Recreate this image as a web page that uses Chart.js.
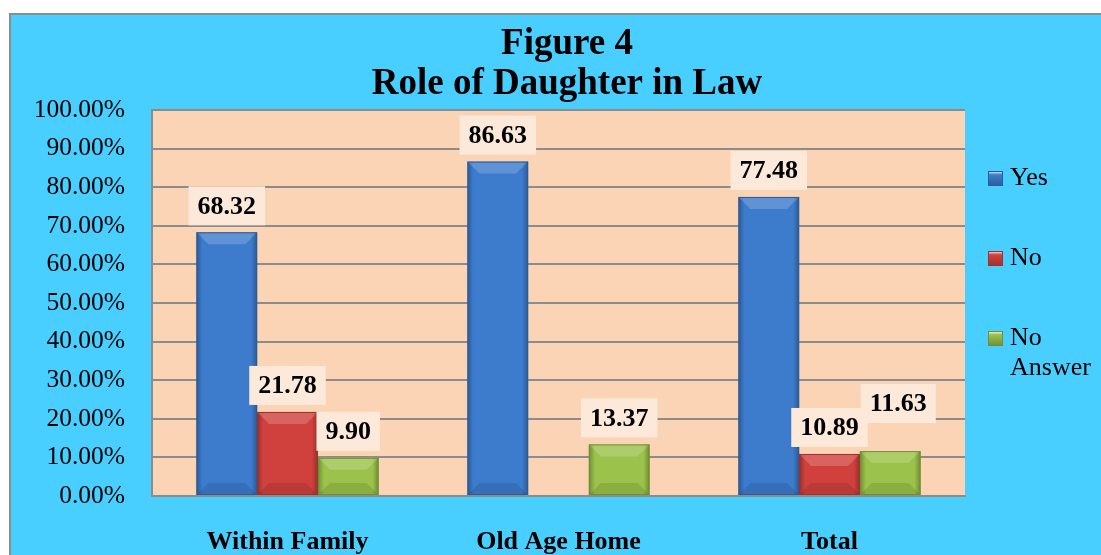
<!DOCTYPE html>
<html>
<head>
<meta charset="utf-8">
<title>Role of Daughter in Law</title>
<script src="https://cdn.jsdelivr.net/npm/chart.js@4.4.1/dist/chart.umd.min.js"></script>
<style>
    html, body { margin: 0; padding: 0; background: #ffffff; overflow: hidden; }
    .frame {
        position: absolute; left: 9px; top: 13px; width: 1200px; height: 600px;
        background: #48ceff; border-left: 2px solid #8c8c8c; border-top: 2px solid #8c8c8c;
    }
    .wrap { position: absolute; left: 0; top: 0; width: 1101px; height: 555px; }
</style>
</head>
<body>
<div class="frame"></div>
<div class="wrap"><canvas id="daughterChart"></canvas></div>
<script>
// ======================
// Data
// ======================
const categories = ['Within Family', 'Old Age Home', 'Total'];
const yesValues = [68.32, 86.63, 77.48];
const noValues = [21.78, null, 10.89];
const noAnswerValues = [9.90, 13.37, 11.63];
const seriesNames = ['Yes', 'No', 'No Answer'];
const titleLines = ['Figure 4', 'Role of Daughter in Law'];
const yMax = 100;
const yStep = 10;

const serif = '"Liberation Serif", "Times New Roman", serif';
const barColors = ['#3d7ccd', '#d0413d', '#9bc24a'];
const edgeColors = ['#2b5b9b', '#9e302d', '#6f8f35'];

// ======================
// Plugins
// ======================
const plotBackground = {
    id: 'plotBackground',
    beforeDraw(chart) {
        const a = chart.chartArea;
        const ctx = chart.ctx;
        ctx.save();
        ctx.fillStyle = '#fad4b4';
        ctx.fillRect(a.left, a.top, a.right - a.left, a.bottom - a.top);
        ctx.restore();
    }
};

// bevel look on top of the flat bars
const barBevel = {
    id: 'barBevel',
    afterDatasetsDraw(chart) {
        const ctx = chart.ctx;
        ctx.save();
        chart.data.datasets.forEach((ds, di) => {
            chart.getDatasetMeta(di).data.forEach((bar, i) => {
                if (ds.data[i] == null) return;
                const w = bar.width;
                const l = bar.x - w / 2;
                const r = bar.x + w / 2;
                const t = bar.y;
                const b = bar.base;
                const g = ctx.createLinearGradient(l, 0, r, 0);
                g.addColorStop(0, 'rgba(0,0,0,0.28)');
                g.addColorStop(0.1, 'rgba(0,0,0,0)');
                g.addColorStop(0.9, 'rgba(0,0,0,0)');
                g.addColorStop(1, 'rgba(0,0,0,0.28)');
                ctx.fillStyle = g;
                ctx.fillRect(l, t, w, b - t);
                const bev = Math.min(12, (b - t) / 3);
                ctx.fillStyle = 'rgba(255,255,255,0.18)';
                ctx.beginPath();
                ctx.moveTo(l, t); ctx.lineTo(r, t);
                ctx.lineTo(r - bev, t + bev); ctx.lineTo(l + bev, t + bev);
                ctx.closePath(); ctx.fill();
                ctx.fillStyle = 'rgba(0,0,0,0.1)';
                ctx.beginPath();
                ctx.moveTo(l, b); ctx.lineTo(r, b);
                ctx.lineTo(r - bev, b - bev); ctx.lineTo(l + bev, b - bev);
                ctx.closePath(); ctx.fill();
                ctx.strokeStyle = edgeColors[di];
                ctx.lineWidth = 1;
                ctx.strokeRect(l + 0.5, t + 0.5, w - 1, b - t - 1);
            });
        });
        ctx.restore();
    }
};

const valueLabels = {
    id: 'valueLabels',
    afterDatasetsDraw(chart) {
        const ctx = chart.ctx;
        const boxes = [];
        ctx.save();
        ctx.font = 'bold 26px ' + serif;
        ctx.textAlign = 'center';
        ctx.textBaseline = 'middle';
        chart.data.datasets.forEach((ds, di) => {
            chart.getDatasetMeta(di).data.forEach((bar, i) => {
                const v = ds.data[i];
                if (v == null) return;
                const txt = v.toFixed(2);
                const w = ctx.measureText(txt).width + 18;
                const h = 39;
                let box = { x: bar.x - w / 2, y: bar.y - 7 - h, w: w, h: h };
                const hit = boxes.some(o => box.x < o.x + o.w && o.x < box.x + box.w &&
                                            box.y < o.y + o.h && o.y < box.y + box.h);
                if (hit) { box.x += 8; box.y -= 21; }
                boxes.push(box);
                ctx.fillStyle = '#fde9d9';
                ctx.fillRect(box.x, box.y, box.w, box.h);
                ctx.fillStyle = '#000000';
                ctx.fillText(txt, box.x + box.w / 2, box.y + box.h / 2 + 1);
            });
        });
        ctx.restore();
    }
};

const chartTitle = {
    id: 'chartTitle',
    afterDraw(chart) {
        const ctx = chart.ctx;
        ctx.save();
        ctx.font = 'bold 37px ' + serif;
        ctx.fillStyle = '#000000';
        ctx.textAlign = 'center';
        ctx.textBaseline = 'middle';
        titleLines.forEach((line, i) => ctx.fillText(line, 567, 44 + i * 40));
        ctx.restore();
    }
};

const sideLegend = {
    id: 'sideLegend',
    afterDraw(chart) {
        const ctx = chart.ctx;
        const x = chart.chartArea.right + 23;
        ctx.save();
        ctx.font = '26px ' + serif;
        ctx.textBaseline = 'middle';
        seriesNames.forEach((name, i) => {
            const y = 178 + i * 80;
            const g = ctx.createLinearGradient(x, y - 7, x, y + 8);
            g.addColorStop(0, '#ffffff');
            g.addColorStop(0.25, barColors[i]);
            g.addColorStop(1, edgeColors[i]);
            ctx.fillStyle = g;
            ctx.fillRect(x, y - 7, 15, 15);
            ctx.strokeStyle = edgeColors[i];
            ctx.strokeRect(x + 0.5, y - 6.5, 14, 14);
            ctx.fillStyle = '#000000';
            name.split(' ').forEach((part, k) => ctx.fillText(part, x + 22, y + k * 30));
        });
        ctx.restore();
    }
};

// ======================
// Chart
// ======================
const canvas = document.getElementById('daughterChart');

if (canvas) {
    new Chart(canvas, {
        type: 'bar',
        data: {
            labels: categories,
            datasets: [
                { label: seriesNames[0], data: yesValues, backgroundColor: barColors[0] },
                { label: seriesNames[1], data: noValues, backgroundColor: barColors[1] },
                { label: seriesNames[2], data: noAnswerValues, backgroundColor: barColors[2] }
            ]
        },
        options: {
            responsive: true,
            maintainAspectRatio: false,
            animation: false,
            categoryPercentage: 0.672,
            barPercentage: 1.0,
            layout: {
                padding: { left: 0, right: 136, top: 110, bottom: 0 }
            },
            scales: {
                x: {
                    grid: { display: false },
                    border: { color: '#8c8c8c', width: 2 },
                    ticks: {
                        color: '#000000',
                        padding: 23,
                        font: { size: 26, weight: 'bold', family: serif }
                    },
                    afterFit(scale) { scale.height = 59; }
                },
                y: {
                    min: 0,
                    max: yMax,
                    border: { color: '#8c8c8c', width: 2 },
                    grid: { color: '#8c8c8c', lineWidth: 2, drawTicks: false },
                    ticks: {
                        stepSize: yStep,
                        color: '#000000',
                        padding: 27,
                        font: { size: 25.5, family: serif },
                        callback: v => v.toFixed(2) + '%'
                    },
                    afterFit(scale) { scale.width = 152; }
                }
            },
            plugins: {
                legend: { display: false },
                title: { display: false },
                tooltip: { enabled: false }
            }
        },
        plugins: [plotBackground, barBevel, valueLabels, chartTitle, sideLegend]
    });
}
</script>
</body>
</html>
